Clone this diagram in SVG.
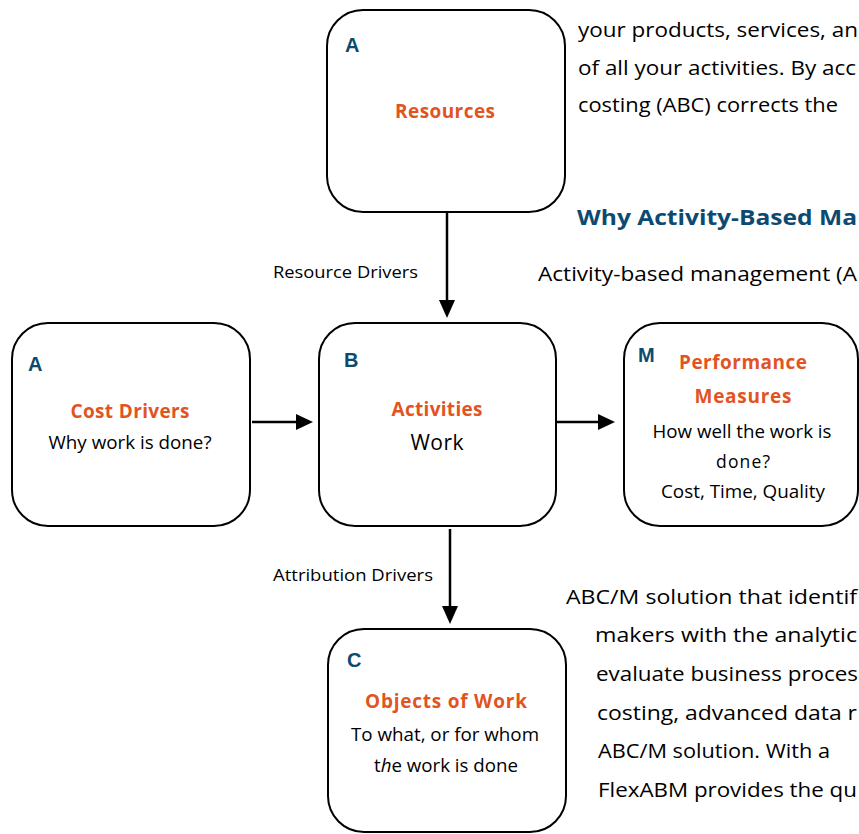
<svg xmlns="http://www.w3.org/2000/svg" width="859" height="834" viewBox="0 0 859 834">
<style>
.box{fill:#fff;stroke:#000;stroke-width:2}
.let{font-family:"Liberation Sans",Arial,sans-serif;font-weight:bold;font-size:20px;fill:#0d4a6e}
.ttl{font-family:"Open Sans",Lato,sans-serif;font-weight:bold;font-size:19px;fill:#e2541f;text-anchor:middle}
.sub{font-family:"Open Sans",Lato,sans-serif;font-size:17.5px;fill:#000;text-anchor:middle}
.lbl{font-family:"Open Sans",Lato,sans-serif;font-size:17px;fill:#000}
.body{font-family:"Open Sans",Lato,sans-serif;font-size:20.5px;fill:#000}
.head{font-family:"Open Sans",Lato,sans-serif;font-weight:bold;font-size:21.5px;fill:#0d4a72}
.con{stroke:#000;stroke-width:2.5;fill:none}
</style>
<rect width="859" height="834" fill="#fff"/>

<g id="background-text">
<text class="body" x="578" y="37" textLength="280" lengthAdjust="spacingAndGlyphs">your products, services, an</text>
<text class="body" x="578" y="75" textLength="278" lengthAdjust="spacingAndGlyphs">of all your activities. By acc</text>
<text class="body" x="578" y="112" textLength="260" lengthAdjust="spacingAndGlyphs">costing (ABC) corrects the</text>
<text class="head" x="577" y="225" textLength="280" lengthAdjust="spacingAndGlyphs">Why Activity-Based Ma</text>
<text class="body" x="538" y="281" textLength="319" lengthAdjust="spacingAndGlyphs">Activity-based management (A</text>
<text class="body" x="566" y="604" textLength="291" lengthAdjust="spacingAndGlyphs">ABC/M solution that identif</text>
<text class="body" x="595" y="642" textLength="262" lengthAdjust="spacingAndGlyphs">makers with the analytic</text>
<text class="body" x="596" y="681" textLength="262" lengthAdjust="spacingAndGlyphs">evaluate business proces</text>
<text class="body" x="597" y="720" textLength="260" lengthAdjust="spacingAndGlyphs">costing, advanced data r</text>
<text class="body" x="598" y="758" textLength="232" lengthAdjust="spacingAndGlyphs">ABC/M solution. With a</text>
<text class="body" x="598" y="797" textLength="259" lengthAdjust="spacingAndGlyphs">FlexABM provides the qu</text>
</g>

<g id="connectors">
<line class="con" x1="447" y1="213" x2="447" y2="306"/>
<path d="M439,300 L455,300 L447,318 z" fill="#000"/>
<line class="con" x1="252" y1="422" x2="300" y2="422"/>
<path d="M296,414 L296,430 L313,422 z" fill="#000"/>
<line class="con" x1="555" y1="422" x2="602" y2="422"/>
<path d="M598,414 L598,430 L615,422 z" fill="#000"/>
<line class="con" x1="450" y1="529" x2="450" y2="612"/>
<path d="M442,606 L458,606 L450,624 z" fill="#000"/>
<text class="lbl" x="273" y="278" textLength="145" lengthAdjust="spacingAndGlyphs">Resource Drivers</text>
<text class="lbl" x="273" y="581" textLength="160" lengthAdjust="spacingAndGlyphs">Attribution Drivers</text>
</g>

<g id="resources">
<rect class="box" x="327" y="10" width="238" height="202" rx="36"/>
<text class="let" x="345" y="52">A</text>
<text class="ttl" x="445" y="118" textLength="100">Resources</text>
</g>

<g id="cost-drivers">
<rect class="box" x="12" y="323" width="238" height="203" rx="36"/>
<text class="let" x="28" y="371">A</text>
<text class="ttl" x="130" y="418" textLength="119">Cost Drivers</text>
<text class="sub" x="130" y="449" textLength="163" lengthAdjust="spacingAndGlyphs">Why work is done?</text>
</g>

<g id="activities">
<rect class="box" x="319" y="323" width="237" height="203" rx="36"/>
<text class="let" x="344" y="367">B</text>
<text class="ttl" x="437" y="416" textLength="91">Activities</text>
<text class="sub" x="437" y="450" style="font-size:21px" textLength="53">Work</text>
</g>

<g id="performance">
<rect class="box" x="624" y="323" width="234" height="203" rx="36"/>
<text class="let" x="638" y="362">M</text>
<text class="ttl" x="743" y="369" textLength="128">Performance</text>
<text class="ttl" x="743" y="403" textLength="97">Measures</text>
<text class="sub" x="742" y="438" textLength="179" lengthAdjust="spacingAndGlyphs">How well the work is</text>
<text class="sub" x="743" y="468" textLength="54">done?</text>
<text class="sub" x="743" y="498" textLength="164" lengthAdjust="spacingAndGlyphs">Cost, Time, Quality</text>
</g>

<g id="objects">
<rect class="box" x="328" y="629" width="238" height="203" rx="36"/>
<text class="let" x="347" y="667">C</text>
<text class="ttl" x="446" y="708" textLength="162">Objects of Work</text>
<text class="sub" x="445" y="741" textLength="188" lengthAdjust="spacingAndGlyphs">To what, or for whom</text>
<text class="sub" x="446" y="772" textLength="144" lengthAdjust="spacingAndGlyphs">t<tspan font-style="italic">h</tspan>e work is done</text>
</g>
</svg>
